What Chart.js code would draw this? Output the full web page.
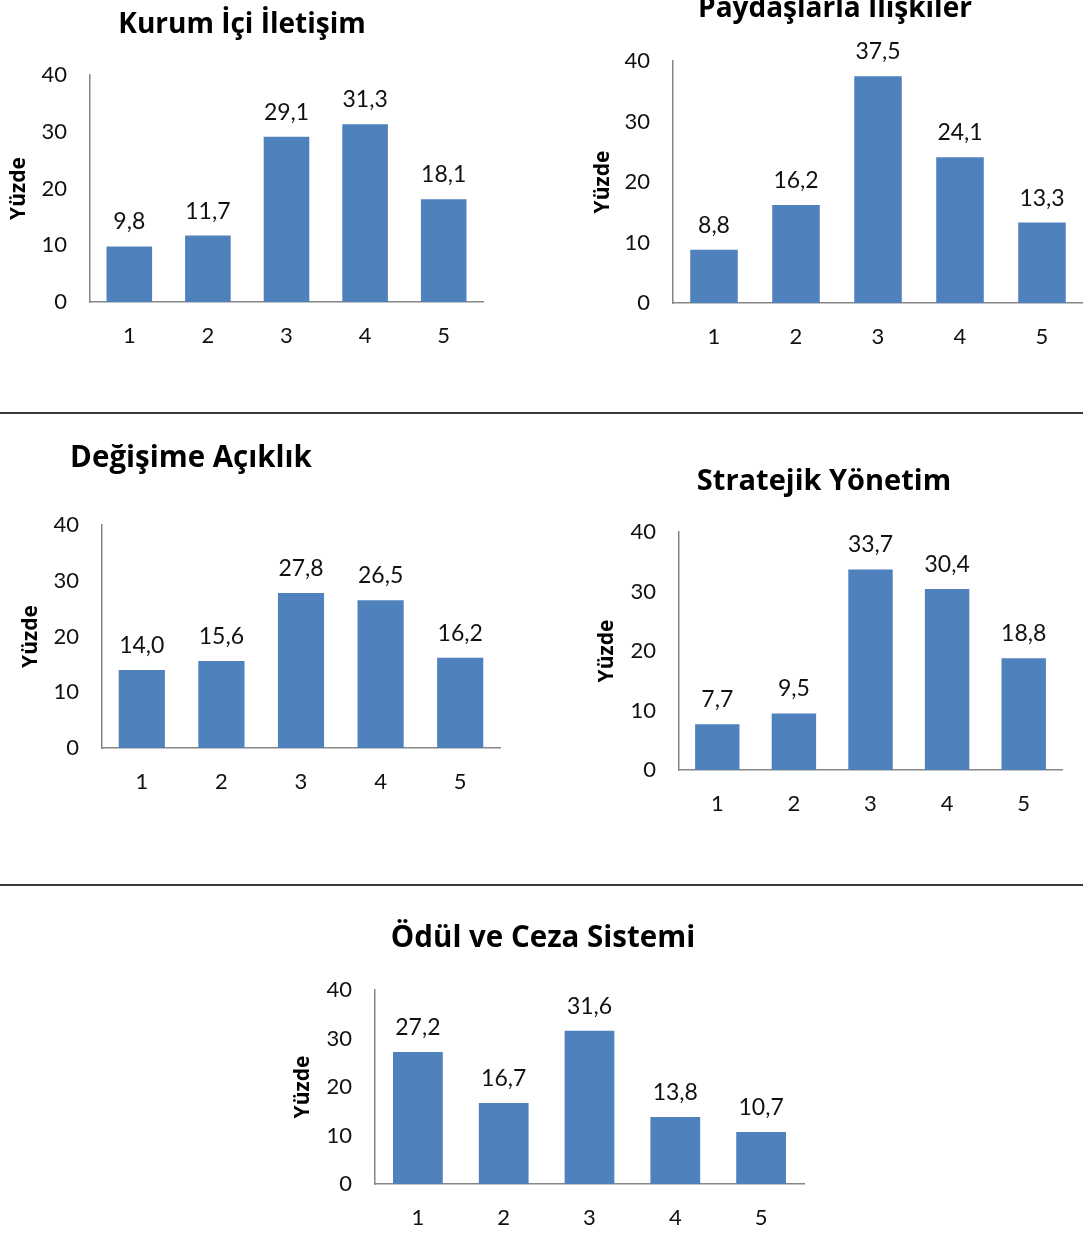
<!DOCTYPE html>
<html>
<head>
<meta charset="utf-8">
<script src="https://cdn.jsdelivr.net/npm/chart.js@4.4.0/dist/chart.umd.min.js"></script>
<style>
  html, body { margin: 0; padding: 0; background: #fff; }
  body { width: 1083px; height: 1233px; position: relative; overflow: hidden; font-family: Lato, 'Open Sans', sans-serif; }
  .panel { position: absolute; }
  .title { position: absolute; font-family: 'Open Sans', sans-serif; font-weight: bold; color: #000; white-space: nowrap; line-height: 1; transform: translate(-50%, -50%); }
  .sep { position: absolute; left: 0; width: 1083px; height: 2px; background: #3a3a3a; }
</style>
</head>
<body>
<div class="sep" style="top:412px"></div>
<div class="sep" style="top:884px"></div>

<script>
// --- data ---
const categories = ['1', '2', '3', '4', '5'];
const yTicks = [0, 10, 20, 30, 40];
const axisTitle = 'Yüzde';
const titles = ['Kurum İçi İletişim', 'Paydaşlarla İlişkiler', 'Değişime Açıklık', 'Stratejik Yönetim', 'Ödül ve Ceza Sistemi'];

const kurumIci = [9.8, 11.7, 29.1, 31.3, 18.1];
const paydaslar = [8.8, 16.2, 37.5, 24.1, 13.3];
const degisim = [14.0, 15.6, 27.8, 26.5, 16.2];
const stratejik = [7.7, 9.5, 33.7, 30.4, 18.8];
const odulCeza = [27.2, 16.7, 31.6, 13.8, 10.7];

// --- layout (page pixels) ---
// box: canvas [x, y, w, h]; area: plot [left, top, right, bottom]
const panels = [
  { title: titles[0], values: kurumIci,  box: [0, 0, 540, 400],     area: [90, 75, 483, 302],     yTitleX: 19,  titleAt: [242, 22],  titleSize: 28 },
  { title: titles[1], values: paydaslar, box: [540, 0, 543, 400],   area: [673, 61, 1083, 303],   yTitleX: 603, titleAt: [835, 6],   titleSize: 28 },
  { title: titles[2], values: degisim,   box: [0, 420, 540, 440],   area: [102, 525, 500, 748],   yTitleX: 31,  titleAt: [191, 456], titleSize: 29.5 },
  { title: titles[3], values: stratejik, box: [540, 420, 543, 440], area: [679, 532, 1062, 770],  yTitleX: 607, titleAt: [824, 478], titleSize: 29 },
  { title: titles[4], values: odulCeza,  box: [270, 890, 560, 343], area: [375, 990, 804, 1184],  yTitleX: 303, titleAt: [543, 936], titleSize: 29.5 },
];

const FONT = 'Lato';
const TITLE_FONT = 'Open Sans';
const BAR = '#4F81BD';
const AXIS = '#868686';
const TEXT = '#111';

const valueLabels = {
  id: 'valueLabels',
  afterDatasetsDraw(chart) {
    const { ctx } = chart;
    const data = chart.data.datasets[0].data;
    ctx.save();
    ctx.font = `23px ${FONT}`;
    ctx.fillStyle = TEXT;
    ctx.textAlign = 'center';
    ctx.textBaseline = 'alphabetic';
    chart.getDatasetMeta(0).data.forEach((bar, i) => {
      ctx.fillText(data[i].toFixed(1).replace('.', ','), bar.x, bar.y - 17);
    });
    ctx.restore();
  },
};

panels.forEach((p) => {
  const [bx, by, bw, bh] = p.box;
  const [al, at, ar, ab] = p.area;

  const wrap = document.createElement('div');
  wrap.className = 'panel';
  wrap.style.cssText = `left:${bx}px;top:${by}px;width:${bw}px;height:${bh}px;`;
  const canvas = document.createElement('canvas');
  canvas.width = bw;
  canvas.height = bh;
  wrap.appendChild(canvas);
  document.body.appendChild(wrap);

  const t = document.createElement('div');
  t.className = 'title';
  t.textContent = p.title;
  t.style.left = p.titleAt[0] + 'px';
  t.style.top = p.titleAt[1] + 'px';
  t.style.fontSize = p.titleSize + 'px';
  document.body.appendChild(t);

  const yTitleSize = 21;
  const yTitleLH = yTitleSize * 1.2;

  new Chart(canvas, {
    type: 'bar',
    data: {
      labels: categories,
      datasets: [{
        data: p.values,
        backgroundColor: BAR,
        barPercentage: 0.58,
        categoryPercentage: 1.0,
      }],
    },
    options: {
      responsive: false,
      animation: false,
      layout: { padding: { left: 0, top: at - by, right: bx + bw - ar, bottom: 0 } },
      plugins: { legend: { display: false }, tooltip: { enabled: false } },
      scales: {
        x: {
          grid: { display: false, drawTicks: false },
          border: { display: true, color: AXIS, width: 1.5 },
          ticks: { color: TEXT, padding: 21, font: { family: FONT, size: 22 } },
          afterFit(s) { s.height = by + bh - ab; },
        },
        y: {
          min: yTicks[0],
          max: yTicks[yTicks.length - 1],
          grid: { display: false, drawTicks: false },
          border: { display: true, color: AXIS, width: 1.5 },
          ticks: { stepSize: 10, color: TEXT, padding: 23, font: { family: FONT, size: 22 } },
          title: {
            display: true,
            text: axisTitle,
            color: '#000',
            font: { family: TITLE_FONT, size: yTitleSize, weight: 'bold' },
            padding: { top: p.yTitleX - bx - yTitleLH / 2, bottom: 0 },
          },
          afterFit(s) { s.width = al - bx; },
        },
      },
    },
    plugins: [valueLabels],
  });
});
</script>
</body>
</html>
